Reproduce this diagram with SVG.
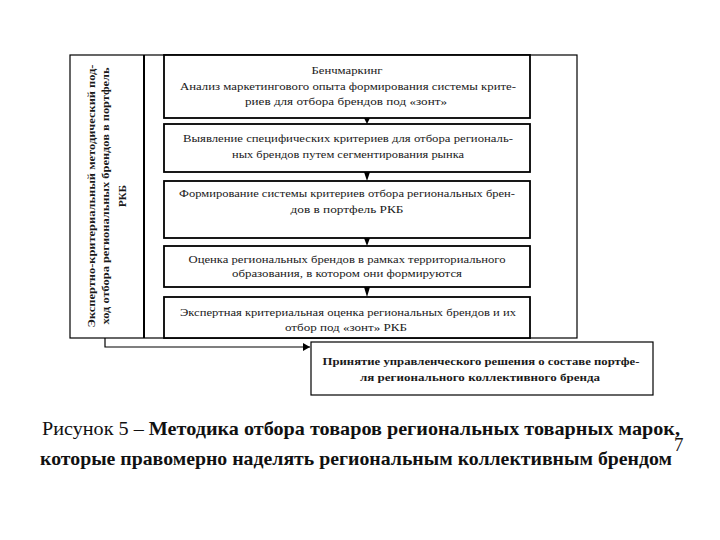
<svg xmlns="http://www.w3.org/2000/svg" width="720" height="540" viewBox="0 0 720 540" font-family="'Liberation Serif', 'Times New Roman', Times, serif">
<style>
.t{font-size:11px;fill:#1a1a1a;text-anchor:middle}
.b{font-weight:bold}
.box{fill:#fff;stroke:#000;stroke-width:1.8}
.ln{fill:none;stroke:#000;stroke-width:1.2}
.cap{font-size:19px;fill:#111}
</style>
<defs>
<marker id="ah" markerWidth="8" markerHeight="8" refX="7" refY="4" orient="auto" markerUnits="userSpaceOnUse">
<path d="M0,0 L7,4 L0,8 Z" fill="#000"/>
</marker>
</defs>
<rect width="720" height="540" fill="#fff"/>
<g id="frame">
<rect x="70" y="55" width="507" height="283" fill="none" stroke="#000" stroke-width="1.2"/>
<line x1="144" y1="55" x2="144" y2="338" stroke="#000" stroke-width="2"/>
</g>
<g id="side" font-family="Liberation Serif">
<text class="t b" transform="translate(95,196) rotate(-90)" textLength="263" lengthAdjust="spacingAndGlyphs">Экспертно-критериальный методический под-</text>
<text class="t b" transform="translate(109,196) rotate(-90)" textLength="257" lengthAdjust="spacingAndGlyphs">ход отбора региональных брендов в портфель</text>
<text class="t b" transform="translate(126,196) rotate(-90)">РКБ</text>
</g>
<g id="connectors">
<path d="M364,118 L370,118 L367,124 Z" fill="#000"/>
<path d="M364,172 L370,172 L367,181 Z" fill="#000"/>
<path d="M364,238 L370,238 L367,246 Z" fill="#000"/>
<path d="M364,287 L370,287 L367,297 Z" fill="#000"/>
<polyline class="ln" points="105,338 105,347 310,347" marker-end="url(#ah)"/>
</g>
<g id="step1" font-family="Liberation Serif">
<rect class="box" x="164" y="55" width="366" height="63"/>
<text class="t" x="347" y="74" textLength="71" lengthAdjust="spacingAndGlyphs">Бенчмаркинг</text>
<text class="t" x="348" y="90" textLength="336" lengthAdjust="spacingAndGlyphs">Анализ маркетингового опыта формирования системы крите-</text>
<text class="t" x="346" y="105" textLength="202" lengthAdjust="spacingAndGlyphs">риев для отбора брендов под «зонт»</text>
</g>
<g id="step2" font-family="Liberation Serif">
<rect class="box" x="164" y="124" width="366" height="48"/>
<text class="t" x="348" y="142" textLength="330" lengthAdjust="spacingAndGlyphs">Выявление специфических критериев для отбора региональ-</text>
<text class="t" x="348" y="158" textLength="232" lengthAdjust="spacingAndGlyphs">ных брендов путем сегментирования рынка</text>
</g>
<g id="step3" font-family="Liberation Serif">
<rect class="box" x="164" y="181" width="366" height="57"/>
<text class="t" x="347" y="197" textLength="336" lengthAdjust="spacingAndGlyphs">Формирование системы критериев отбора региональных брен-</text>
<text class="t" x="347" y="213" textLength="113" lengthAdjust="spacingAndGlyphs">дов в портфель РКБ</text>
</g>
<g id="step4" font-family="Liberation Serif">
<rect class="box" x="164" y="246" width="366" height="41"/>
<text class="t" x="347" y="263" textLength="317" lengthAdjust="spacingAndGlyphs">Оценка региональных брендов в рамках  территориального</text>
<text class="t" x="347" y="277" textLength="230" lengthAdjust="spacingAndGlyphs">образования, в котором они формируются</text>
</g>
<g id="step5" font-family="Liberation Serif">
<rect class="box" x="164" y="297" width="366" height="41"/>
<text class="t" x="348" y="316" textLength="336" lengthAdjust="spacingAndGlyphs">Экспертная критериальная оценка региональных брендов и их</text>
<text class="t" x="346" y="331" textLength="122" lengthAdjust="spacingAndGlyphs">отбор под «зонт» РКБ</text>
</g>
<g id="decision" font-family="Liberation Serif">
<rect x="311" y="342" width="342" height="53" fill="#fff" stroke="#000" stroke-width="1.2"/>
<text class="t b" x="481" y="365" textLength="317" lengthAdjust="spacingAndGlyphs">Принятие управленческого решения о составе портфе-</text>
<text class="t b" x="480" y="381" textLength="240" lengthAdjust="spacingAndGlyphs">ля регионального коллективного бренда</text>
</g>
<g id="caption" font-family="Liberation Serif">
<text class="cap" x="42" y="435" textLength="638" lengthAdjust="spacingAndGlyphs">Рисунок 5 – <tspan font-weight="bold">Методика отбора товаров региональных товарных марок,</tspan></text>
<text class="cap" x="40" y="465" font-weight="bold" textLength="632" lengthAdjust="spacingAndGlyphs">которые правомерно наделять региональным коллективным брендом</text>
<text class="cap" x="674" y="451" font-size="12">7</text>
</g>
</svg>
